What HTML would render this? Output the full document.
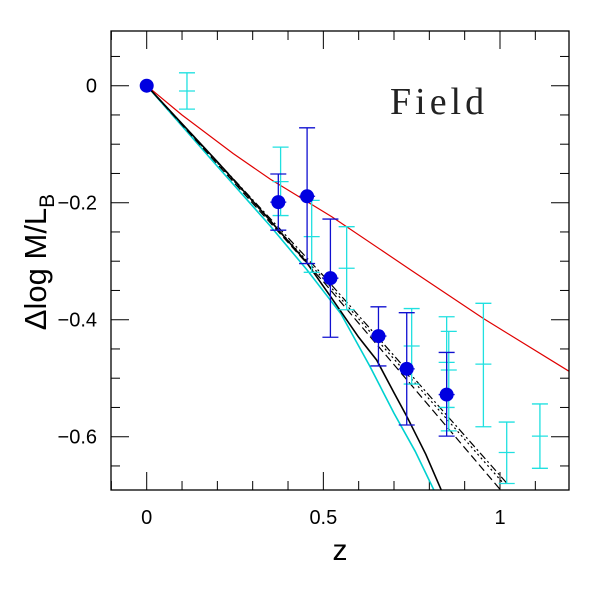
<!DOCTYPE html>
<html><head><meta charset="utf-8"><style>
html,body{margin:0;padding:0;background:#fff;width:600px;height:600px;overflow:hidden}
svg text{font-family:"Liberation Sans",sans-serif}
</style></head><body>
<svg id="chart" width="600" height="600" xmlns="http://www.w3.org/2000/svg">
<g id="plot"></g>
<text x="390" y="114" font-size="38" fill="#222" letter-spacing="4" style="font-family:'Liberation Serif',serif">Field</text>
<text x="340" y="560" font-size="30" text-anchor="middle">z</text>
<text transform="translate(46,262) rotate(-90)" font-size="31" text-anchor="middle">Δlog M/L<tspan font-size="21" dy="8">B</tspan></text>
</svg>
<script>
const xTicks=[0,0.5,1];
const xTickLabels=["0","0.5","1"];
const yTicks=[0,-0.2,-0.4,-0.6];
const yTickLabels=["0","\u22120.2","\u22120.4","\u22120.6"];
const blueX=[0,0.3725,0.454,0.52,0.656,0.736,0.849];
const blueY=[0,-0.199,-0.189,-0.329,-0.428,-0.484,-0.528];
const blueHi=[0,-0.151,-0.072,-0.228,-0.378,-0.388,-0.456];
const blueLo=[0,-0.247,-0.304,-0.43,-0.479,-0.58,-0.599];
const cyanX=[0.114,0.379,0.467,0.566,0.75,0.849,0.855,0.953,1.019,1.113];
const cyanY=[-0.009,-0.164,-0.258,-0.312,-0.445,-0.473,-0.486,-0.476,-0.627,-0.599];
const cyanHi=[0.022,-0.105,-0.196,-0.241,-0.381,-0.395,-0.42,-0.372,-0.575,-0.544];
const cyanLo=[-0.04,-0.222,-0.319,-0.383,-0.51,-0.55,-0.59,-0.583,-0.68,-0.654];
const redZ=[0,0.1,0.245,0.35,0.524,0.75,0.953,1.2];
const redV=[0,-0.05,-0.116,-0.16,-0.224,-0.316,-0.398,-0.49];
const blackZ=[0,0.2,0.34,0.45,0.52,0.6,0.651,0.7,0.736,0.79,0.84];
const blackV=[0,-0.13,-0.224,-0.3,-0.36,-0.43,-0.469,-0.525,-0.565,-0.63,-0.7];
const cyanLineZ=[0,0.2,0.35,0.454,0.55,0.632,0.7,0.76,0.82];
const cyanLineV=[0,-0.138,-0.24,-0.315,-0.39,-0.48,-0.56,-0.625,-0.7];
const dashZ=[0,0.5,1.0];
const dashV=[0,-0.335,-0.69];
const dotZ=[0,0.5,1.01];
const dotV=[0,-0.33,-0.68];
const dashDotZ=[0,0.5,1.02];
const dashDotV=[0,-0.325,-0.68];

const L=111,R=569,T=31,B=490;
const X=v=>146.7+v*353.3;
const Y=v=>85.7-v*585;
const NS="http://www.w3.org/2000/svg";
const g=document.getElementById('plot');
function mk(t,a){const e=document.createElementNS(NS,t);for(const k in a)e.setAttribute(k,a[k]);g.appendChild(e);return e;}
const defs=mk('defs',{});
const cp=document.createElementNS(NS,'clipPath');cp.setAttribute('id','c');
const cr=document.createElementNS(NS,'rect');cr.setAttribute('x',L);cr.setAttribute('y',T);cr.setAttribute('width',R-L);cr.setAttribute('height',B-T);
cp.appendChild(cr);defs.appendChild(cp);
for(let v=-0.1;v<=1.2001;v+=0.1){const px=X(v);if(px<L||px>R)continue;const maj=Math.abs(v*2-Math.round(v*2))<1e-6;const len=maj?18:9;
const t1=mk('line',{x1:px,x2:px,y1:B,y2:B-len,stroke:'#000','stroke-width':1});


mk('line',{x1:px,x2:px,y1:T,y2:T+len,stroke:'#000','stroke-width':1});}
for(let i=-14;i<=2;i++){const v=i*0.05;const py=Y(v);if(py<T||py>B)continue;const maj=Math.abs(v*5-Math.round(v*5))<1e-6;const len=maj?18:9;
const t2=mk('line',{x1:L,x2:L+len,y1:py,y2:py,stroke:'#000','stroke-width':1});


mk('line',{x1:R,x2:R-len,y1:py,y2:py,stroke:'#000','stroke-width':1});}
xTicks.forEach((v,i)=>{const t=mk('text',{x:X(v),y:524,'font-size':20,'text-anchor':'middle'});t.textContent=xTickLabels[i];

});
yTicks.forEach((v,i)=>{const t=mk('text',{x:97,y:Y(v)+7,'font-size':20,'text-anchor':'end'});t.textContent=yTickLabels[i];

});
function line(zs,vs,col,dash,name,w){const d=zs.map((z,i)=>(i?'L':'M')+X(z).toFixed(1)+','+Y(vs[i]).toFixed(1)).join(' ');
const p=mk('path',{d:d,fill:'none',stroke:col,'stroke-width':w||1.4,'clip-path':'url(#c)'});if(dash)p.setAttribute('stroke-dasharray',dash);

}
line(redZ,redV,'#e00000',null,'red-model-line',1.2);
line(cyanLineZ,cyanLineV,'#00d0d0',null,'cyan-model-line',1.6);
line(dashZ,dashV,'#000','8,4','dashed-model-line',1.2);
line(dotZ,dotV,'#000','2,3','dotted-model-line',1.2);
line(dashDotZ,dashDotV,'#000','8,3,2,3','dashdot-model-line',1.2);
line(blackZ,blackV,'#000',null,'black-model-line',1.6);
function ebar(x,y,hi,lo,col,name,cap){const px=X(x);
const e=mk('path',{d:`M${px},${Y(hi)}V${Y(lo)}M${px-cap},${Y(hi)}h${2*cap}M${px-cap},${Y(lo)}h${2*cap}M${px-cap},${Y(y)}h${2*cap}`,stroke:col,'stroke-width':1.3,fill:'none','clip-path':'url(#c)'});

}
cyanX.forEach((x,i)=>ebar(x,cyanY[i],cyanHi[i],cyanLo[i],'#20e0e0','cyan-error-bar',8));
blueX.forEach((x,i)=>{if(i>0)ebar(x,blueY[i],blueHi[i],blueLo[i],'#1010d0','blue-error-bar',8);
const c=mk('circle',{cx:X(x),cy:Y(blueY[i]),r:7,fill:'#0000e0'});

});
const fr=mk('rect',{x:L,y:T,width:R-L,height:B-T,fill:'none',stroke:'#000','stroke-width':1.3});


</script>
</body></html>
